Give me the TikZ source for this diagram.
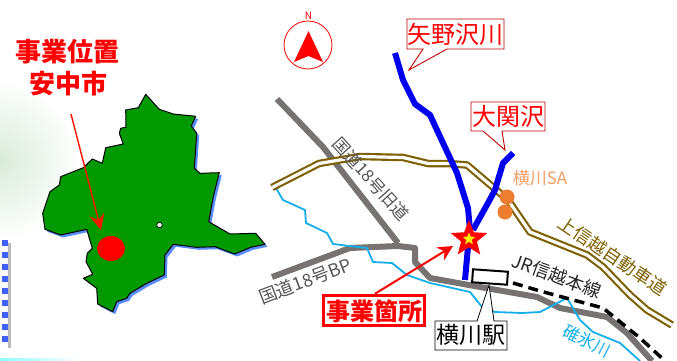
\documentclass[tikz,border=0pt]{standalone}
\usepackage{fontspec}
\setmainfont{Noto Sans CJK JP}
\usetikzlibrary{shapes.geometric,arrows.meta}
\definecolor{grn}{RGB}{0,153,0}
\definecolor{shb}{RGB}{90,140,255}
\definecolor{rd}{RGB}{255,0,0}
\definecolor{dkr}{RGB}{192,0,0}
\definecolor{gry}{RGB}{120,115,115}
\definecolor{txg}{RGB}{85,85,85}
\definecolor{brn}{RGB}{127,96,0}
\definecolor{riv}{RGB}{0,0,240}
\definecolor{sky}{RGB}{20,175,235}
\definecolor{org}{RGB}{237,125,49}
\tikzset{
 road/.style={draw=gry,line width=6pt,line join=round},
 river/.style={draw=riv,line width=6pt,line join=round},
 stream/.style={draw=sky,line width=1.8pt,line join=round},
 lbl/.style={inner sep=0pt},
 callout/.style={draw=dkr,fill=white,line width=.9pt},
}
\newcommand{\hwy}{(272,187.5) -- (319,163.5) -- (360,156.5) -- (403,157.5) -- (428,163.5) -- (448,163.5) -- (467,165) -- (508,200) -- (530,232) -- (587,255) -- (603,267) -- (630,295) -- (647,310) -- (672,325)}
\newcommand{\muni}{(145.7,94.3) -- (159.3,109.3) -- (173.3,114) -- (195.7,116.3) -- (191.3,126) -- (196.7,133.3) -- (194.3,168.3) -- (200,173.3) -- (219.3,172.7) -- (213.3,196.7) -- (208.7,221.7) -- (230,234) -- (255.7,233.3) -- (265,244.3) -- (250.7,247.3) -- (234.7,254) -- (215,246.7) -- (196.7,247.3) -- (173.3,244.3) -- (165,255) -- (164.3,275) -- (146.7,283.3) -- (130,293.3) -- (126.7,298.3) -- (116.7,301.7) -- (112.7,311.7) -- (97.7,304) -- (96.7,288.3) -- (83.3,278.3) -- (92.7,274.3) -- (86,261.7) -- (87.3,253.3) -- (92.3,248.3) -- (86.7,229.3) -- (60.7,235) -- (45,229.3) -- (42.7,213.3) -- (50,191.7) -- (59.3,185) -- (60.7,176.7) -- (83.3,167.7) -- (92.3,159) -- (102.3,163.3) -- (105.7,147.7) -- (123.3,144) -- (119.3,133.3) -- (120.7,128.3) -- (126,127.3) -- (125.7,110) -- (138.3,107.7) -- cycle}
\begin{document}
\begin{tikzpicture}[x=1pt,y=-1pt]
\useasboundingbox (0,0) rectangle (677,361);
% background glow and edge decorations
\begin{scope}
\clip (0,0) rectangle (677,361);
\shade[inner color=green!30!gray!22,outer color=white] (-80,80) rectangle (80,240);
\end{scope}
\fill[left color=cyan!45,right color=white,draw=none] (0,358.5) rectangle (78,361);
\fill[gray!55] (8,243) rectangle (10.5,348);
\foreach \yy in {243,255,267,279,291,303,315,327,339}{\fill[shb!70!blue] (2,\yy-3) rectangle (8,\yy+3);}
% municipality
\begin{scope}[shift={(2.5,2.5)}]
\fill[shb] \muni;
\end{scope}
\draw[fill=grn,line width=1pt,line join=round] \muni;
\node[draw=black,fill=white,circle,inner sep=0pt,minimum size=5.5pt,line width=.7pt] (dot) at (159.5,225) {};
\node[fill=rd,ellipse,inner sep=0pt,minimum width=28pt,minimum height=25pt] (site) at (111,248.5) {};
\coordinate (arrs) at (71,114);
\draw[-{Stealth[length=16pt,width=15pt,inset=6pt]},draw=red!85!orange,line width=1.4pt] (arrs) -- (101,230);
\node[lbl,text=rd,font=\bfseries\fontsize{26}{26}\selectfont] (t1) at (68,52) {事業位置};
\node[lbl,text=rd,font=\bfseries\fontsize{26}{26}\selectfont] (t2) at (68,84) {安中市};
% north arrow
\node[draw=rd,circle,minimum size=48pt,inner sep=0pt,line width=.8pt] (comp) at (308,45) {};
\fill[rd] (308.5,31) -- (323,62) -- (308.5,56) -- (294,62) -- cycle;
\node[inner sep=0pt,text=rd,font=\fontsize{10}{10}\selectfont] (nn) at (308.5,16) {N};
% roads
\draw[road] (277,99) -- (323,147) -- (398,243);
\draw[road] (272,277) -- (350,248) -- (398,246) -- (415,248) -- (415,262) -- (430,278) -- (480,287) -- (537,297) -- (560,308) -- (607,317) -- (627,333) -- (652,361);
% streams
\draw[stream] (273,183) -- (283,200) -- (305,210) -- (306,223) -- (327,233) -- (333,244) -- (367,248) -- (373,262) -- (392,263) -- (407,275) -- (430,283) -- (470,292) -- (482,307) -- (495,312) -- (522,313) -- (540,312) -- (567,298) -- (580,320) -- (593,332) -- (620,343) -- (640,361);
% highway double line
\draw[draw=brn,line width=7.5pt,line join=round] \hwy;
\draw[draw=white,line width=3.2pt,line join=round] \hwy;
% rivers
\draw[river] (395,53) -- (403,80) -- (415,104) -- (430,115) -- (443,143) -- (457,173) -- (468,208) -- (470,230) -- (468,247) -- (465,280);
\draw[river] (513,153) -- (503,163) -- (495,190) -- (488,203) -- (473,230);
% railway
\draw[line width=3.5pt,dash pattern=on 10pt off 6pt] (513,283) -- (540,291) -- (603,308) -- (640,338) -- (665,361);
% site star
\node[star,star points=5,star point ratio=2.3,draw=rd,fill=yellow,line width=4.5pt,inner sep=0pt,minimum size=26pt] (star) at (469,239) {};
% SA
\fill[org] (507,197) circle (7.5);
\fill[org] (505,212) circle (7.5);
\node[lbl,text=org!75!white,font=\fontsize{17}{17}\selectfont] (sa) at (540,178) {横川SA};
% station
\node[draw=black,fill=white,line width=2pt,minimum width=35pt,minimum height=13pt,inner sep=0pt,rotate=-4] (stn) at (490,277) {};
\draw[fill=white,line width=.8pt] (435,321) -- (477,321) -- (489,285) -- (494,321) -- (507,321) -- (507,350) -- (435,350) -- cycle;
\node[inner sep=0pt,font=\fontsize{23}{23}\selectfont] (stnl) at (471,335) {横川駅};
% site label and arrow
\node[draw=rd,fill=white,line width=3.5pt,inner sep=0pt,minimum width=101pt,minimum height=30pt] (sitebox) at (374,310.5) {};
\node[inner sep=0pt,text=rd,font=\bfseries\fontsize{24}{24}\selectfont] (sitet) at (374,311) {事業箇所};
\draw[-{Stealth[length=15pt,width=15pt]},draw=rd,line width=2pt] (sitebox.north) ++(1,0) -- (453,246);
% callouts
\draw[callout] (407,19) -- (504,19) -- (504,49) -- (447,49) -- (409,70) -- (423,49) -- (407,49) -- cycle;
\node[inner sep=0pt,text=rd,font=\fontsize{24}{24}\selectfont] (yano) at (455.5,34) {矢野沢川};
\draw[callout] (471,102) -- (545,102) -- (545,131) -- (502,131) -- (505,150) -- (483,131) -- (471,131) -- cycle;
\node[inner sep=0pt,text=rd,font=\fontsize{24}{24}\selectfont] (oz) at (508,116) {大関沢};
% road & rail labels
\node[lbl,text=txg,rotate=-48,font=\fontsize{17}{17}\selectfont] (r1) at (371,179) {国道18号旧道};
\node[lbl,text=txg,rotate=21,font=\fontsize{18}{18}\selectfont] (r2) at (305,281) {国道18号BP};
\node[lbl,text=brn,rotate=-34,font=\fontsize{18}{18}\selectfont] (r3) at (613,256) {上信越自動車道};
\node[lbl,text=black!85,rotate=-20,font=\fontsize{18}{18}\selectfont] (r4) at (557,276) {JR信越本線};
\node[lbl,text=sky,rotate=-27,font=\fontsize{17}{17}\selectfont] (r5) at (587,341) {碓氷川};
\end{tikzpicture}
\end{document}
